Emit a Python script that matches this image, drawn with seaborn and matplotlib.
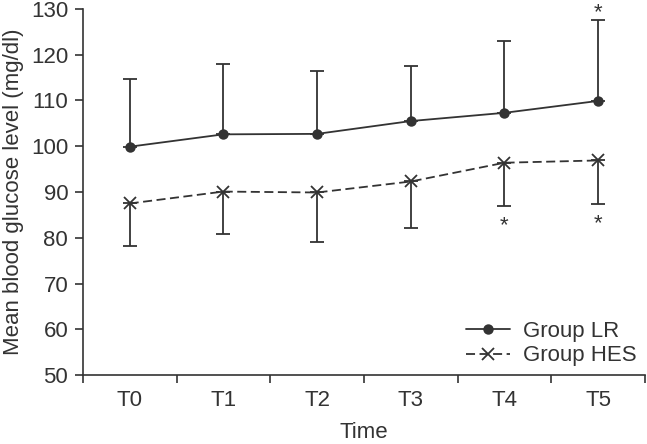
import numpy as np
import pandas as pd
import seaborn as sns
import matplotlib.pyplot as plt
from matplotlib.ticker import FixedLocator

# values
times = ["T0", "T1", "T2", "T3", "T4", "T5"]
lr_mean = [99.9, 102.6, 102.7, 105.5, 107.3, 109.9]
lr_upper = [114.6, 118.0, 116.5, 117.6, 122.9, 127.6]
hes_mean = [87.5, 90.1, 89.9, 92.3, 96.4, 96.9]
hes_lower = [78.3, 80.9, 79.1, 82.1, 87.0, 87.3]
lr_star = ["T5"]
hes_star = ["T4", "T5"]

color = "#333333"
fs = 16

sns.set_theme(style="ticks")
plt.rcParams['font.family'] = ['Liberation Sans', 'DejaVu Sans']

x = np.arange(len(times))
lr = pd.DataFrame({"x": x, "Glucose": lr_mean})
hes = pd.DataFrame({"x": x, "Glucose": hes_mean})

fig, ax = plt.subplots(figsize=(6.47, 4.44), dpi=100)
fig.subplots_adjust(left=0.128, right=0.997, bottom=0.155, top=0.98)

# one-sided error bars (SD up for LR, down for HES)
ax.errorbar(x, lr_mean, yerr=[np.zeros(len(x)), np.array(lr_upper) - np.array(lr_mean)],
            fmt="none", ecolor=color, elinewidth=1.3, capsize=5, capthick=1.3, zorder=2)
ax.errorbar(x, hes_mean, yerr=[np.array(hes_mean) - np.array(hes_lower), np.zeros(len(x))],
            fmt="none", ecolor=color, elinewidth=1.3, capsize=5, capthick=1.3, zorder=2)

sns.lineplot(data=lr, x="x", y="Glucose", color=color, marker="o", markersize=7.5,
             markeredgewidth=0, markeredgecolor=color, linewidth=1.3,
             label="Group LR", ax=ax, zorder=3)
sns.lineplot(data=hes, x="x", y="Glucose", color=color, marker="x", markersize=9,
             markeredgewidth=1.3, markeredgecolor=color, linewidth=1.3,
             linestyle=(0, (5, 2.5)), label="Group HES", ax=ax, zorder=3)

# significance asterisks
for t in lr_star:
    i = times.index(t)
    ax.text(i, lr_upper[i] + 0.3, "*", ha="center", va="baseline", fontsize=fs,
            color=color, clip_on=False)
for t in hes_star:
    i = times.index(t)
    ax.text(i, hes_lower[i] - 5.5, "*", ha="center", va="baseline", fontsize=fs,
            color=color, clip_on=False)

ax.set_xlim(-0.5, len(times) - 0.5)
ax.set_ylim(50, 130)
ax.set_yticks(np.arange(50, 131, 10))
ax.set_xticks(x)
ax.set_xticklabels(times)
ax.xaxis.set_minor_locator(FixedLocator(np.arange(-0.5, len(times), 1.0)))
ax.tick_params(axis="x", which="major", length=0, pad=11, labelsize=fs, colors=color)
ax.tick_params(axis="x", which="minor", length=6, width=1.2, color=color)
ax.tick_params(axis="y", length=5.5, width=1.2, pad=5, labelsize=fs, colors=color)

ax.set_xlabel("Time", fontsize=fs, color=color, labelpad=7.5)
ax.set_ylabel("Mean blood glucose level (mg/dl)", fontsize=fs, color=color, labelpad=5)

sns.despine(ax=ax)
for sp in ["left", "bottom"]:
    ax.spines[sp].set_color(color)
    ax.spines[sp].set_linewidth(1.2)

leg = ax.legend(loc="lower right", frameon=False, fontsize=fs, handlelength=2.0,
                borderaxespad=0.0, labelspacing=0.15, handletextpad=0.55,
                bbox_to_anchor=(1.0, 0.0))
for txt in leg.get_texts():
    txt.set_color(color)

fig.savefig("out.png", dpi=100)
